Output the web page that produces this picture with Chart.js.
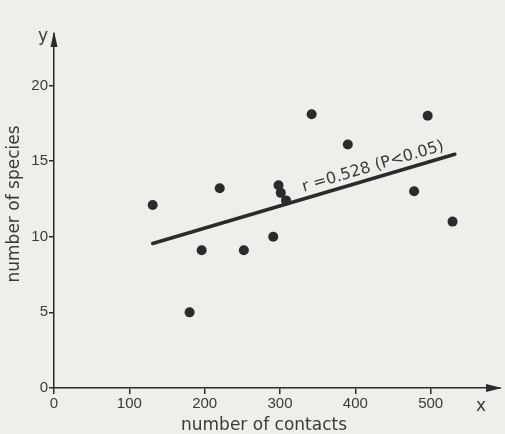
<!DOCTYPE html>
<html>
<head>
<meta charset="utf-8">
<script src="https://cdn.jsdelivr.net/npm/chart.js@4.4.1/dist/chart.umd.min.js"></script>
<style>
    html, body { margin: 0; padding: 0; background: #eeeeea; }
    #wrap { width: 505px; height: 434px; }
</style>
</head>
<body>
<div id="wrap"><canvas id="chart" width="505" height="434"></canvas></div>
<script>
// ── Data ─────────────────────────────────────────────────────
const contacts = [131, 220, 196, 252, 180, 291, 298, 301, 308, 342, 390, 496, 478, 529];
const species = [12.1, 13.2, 9.1, 9.1, 5.0, 10.0, 13.4, 12.9, 12.4, 18.1, 16.1, 18.0, 13.0, 11.0];
const fitX = [131, 532];
const fitY = [9.55, 15.45];
const xTicks = [0, 100, 200, 300, 400, 500];
const yTicks = [0, 5, 10, 15, 20];
const xTitle = "number of contacts";
const yTitle = "number of species";
const fitText = "r =0.528 (P<0.05)";

const INK = "#2b2b2b";
const TEXT = "#3a3a3a";

// ── Extra drawing: arrows, axis letters, titles, r label ─────
const decorations = {
    id: "decorations",
    afterDraw(chart) {
        const { ctx, chartArea: a, scales: { x, y } } = chart;
        ctx.save();
        ctx.fillStyle = INK;

        // arrow heads
        ctx.beginPath();
        ctx.moveTo(a.left, a.top - 3);
        ctx.lineTo(a.left - 3.5, a.top + 13);
        ctx.lineTo(a.left + 3.5, a.top + 13);
        ctx.closePath();
        ctx.fill();

        ctx.beginPath();
        ctx.moveTo(a.right + 2, a.bottom);
        ctx.lineTo(a.right - 14, a.bottom - 4);
        ctx.lineTo(a.right - 14, a.bottom + 4);
        ctx.closePath();
        ctx.fill();

        // axis letters and titles
        ctx.fillStyle = TEXT;
        ctx.font = "17px 'DejaVu Sans'";
        ctx.textAlign = "center";
        ctx.textBaseline = "middle";
        ctx.fillText("y", a.left - 11, a.top + 3);
        ctx.fillText("x", a.right - 19, a.bottom + 19);
        ctx.fillText(xTitle, a.left + 210, a.bottom + 38);

        ctx.save();
        ctx.translate(15, a.top + 170);
        ctx.rotate(-Math.PI / 2);
        ctx.fillText(yTitle, 0, 0);
        ctx.restore();

        // regression label along the line
        const x0 = x.getPixelForValue(fitX[0]), y0 = y.getPixelForValue(fitY[0]);
        const x1 = x.getPixelForValue(fitX[1]), y1 = y.getPixelForValue(fitY[1]);
        const ang = Math.atan2(y1 - y0, x1 - x0);
        const t = (x.getPixelForValue(334) - x0) / (x1 - x0);
        ctx.translate(x0 + t * (x1 - x0), y0 + t * (y1 - y0));
        ctx.rotate(ang);
        ctx.textAlign = "left";
        ctx.textBaseline = "alphabetic";
        ctx.font = "16px 'DejaVu Sans'";
        ctx.fillText(fitText, 0, -7);
        ctx.restore();
    }
};

const axisGrid = {
    display: true,
    drawOnChartArea: false,
    drawTicks: true,
    tickLength: 6,
    color: INK,
    lineWidth: 1.5
};

new Chart(document.getElementById("chart"), {
    type: "scatter",
    data: {
        datasets: [
            {
                data: contacts.map((c, i) => ({ x: c, y: species[i] })),
                backgroundColor: INK,
                borderWidth: 0,
                pointRadius: 5
            },
            {
                type: "line",
                data: fitX.map((c, i) => ({ x: c, y: fitY[i] })),
                borderColor: INK,
                borderWidth: 3.5,
                pointRadius: 0,
                borderCapStyle: "round"
            }
        ]
    },
    options: {
        responsive: false,
        animation: false,
        layout: { padding: { top: 34, right: 3, left: 0, bottom: 0 } },
        plugins: { legend: { display: false }, tooltip: { enabled: false } },
        scales: {
            x: {
                type: "linear",
                min: 0,
                max: 592,
                afterBuildTicks: s => { s.ticks = xTicks.map(v => ({ value: v })); },
                afterFit: s => { s.height = 46; },
                ticks: {
                    color: TEXT,
                    font: { family: "'Liberation Sans'", size: 15 },
                    padding: 1,
                    maxRotation: 0,
                    autoSkip: false
                },
                grid: axisGrid,
                border: { display: true, color: INK, width: 1.5 }
            },
            y: {
                type: "linear",
                min: 0,
                max: 23.4,
                afterBuildTicks: s => { s.ticks = yTicks.map(v => ({ value: v })); },
                afterFit: s => { s.width = 54; },
                ticks: {
                    color: TEXT,
                    font: { family: "'Liberation Sans'", size: 15 },
                    padding: 1
                },
                grid: { ...axisGrid, tickLength: 5 },
                border: { display: true, color: INK, width: 1.5 }
            }
        }
    },
    plugins: [decorations]
});
</script>
</body>
</html>
